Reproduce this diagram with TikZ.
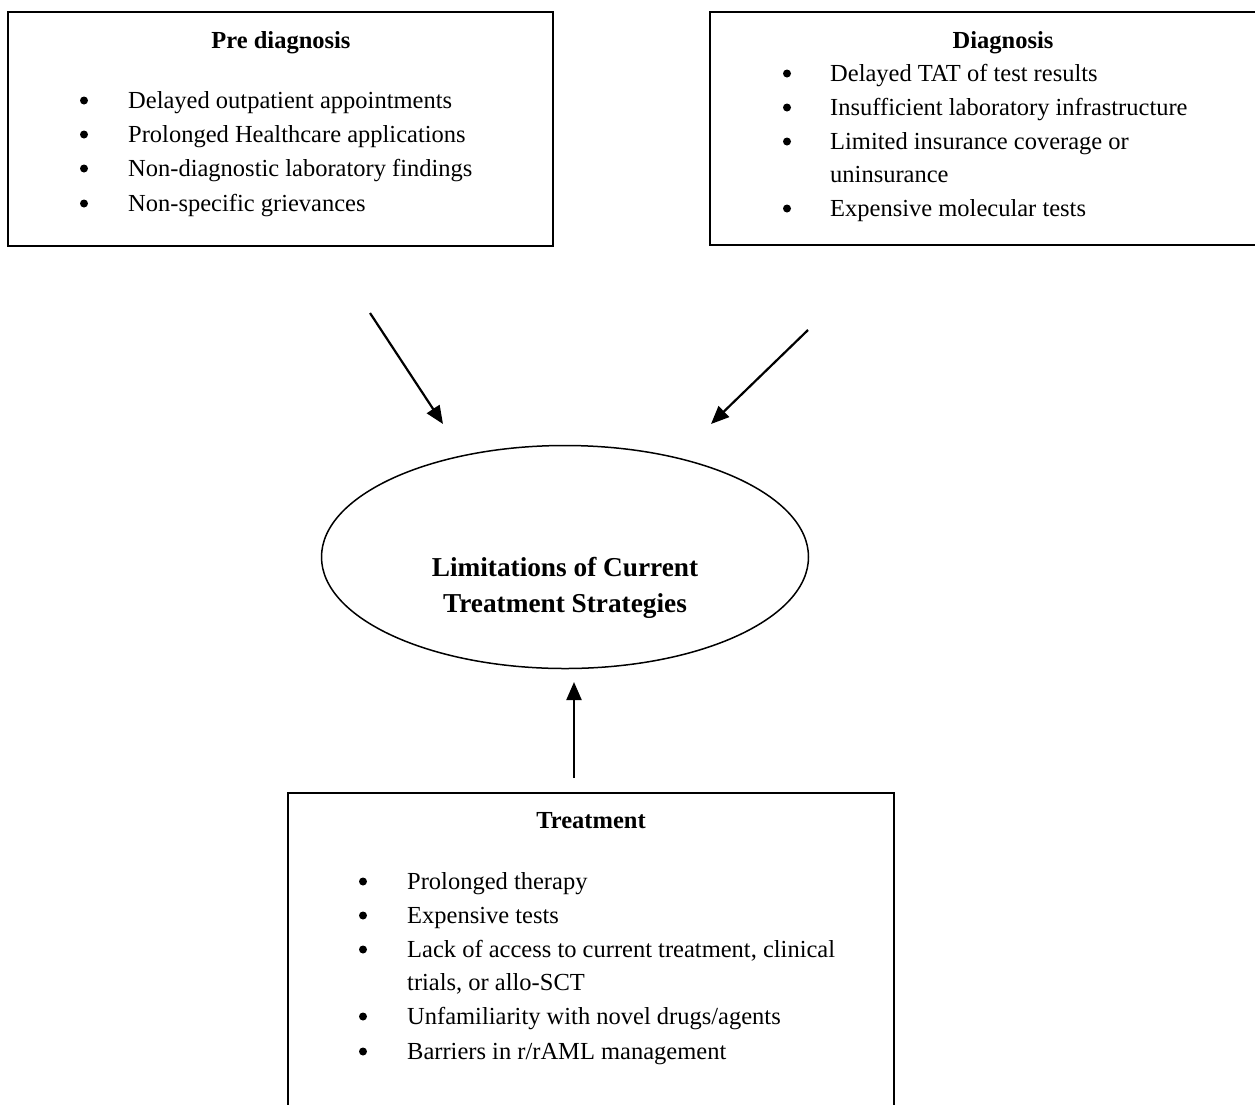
\documentclass[tikz,border=0pt]{standalone}
\usepackage{fontspec}
\setmainfont{Liberation Serif}
\usetikzlibrary{arrows.meta,shapes.geometric}
\begin{document}
\begin{tikzpicture}[x=1pt,y=-1pt,
  box/.style={draw,line width=1.8pt,inner sep=0pt},
  txt/.style={anchor=base west,inner sep=0pt,font=\fontsize{24.5}{30}\selectfont},
  ttl/.style={anchor=base,inner sep=0pt,font=\fontsize{24.5}{30}\selectfont\bfseries},
  etl/.style={anchor=base,inner sep=0pt,font=\fontsize{27.3}{33}\selectfont\bfseries},
  bul/.style={circle,fill,inner sep=0pt,minimum size=8pt,yshift=7.5pt},
  arr/.style={line width=2.2pt,-{Triangle[length=18pt,width=15pt]}}]
\clip (0,0) rectangle (1255,1104);
% boxes
\draw[box] (8,12) rectangle (553,246);
\draw[box] (710,12) rectangle (1275,245);
\draw[box] (288,1125) -- (288,793) -- (894,793) -- (894,1125);
\node[draw,line width=1.5pt,ellipse,minimum width=487pt,minimum height=223pt] (ell) at (565,557) {};
% left box text
\node[ttl] (t1) at (281,48) {Pre diagnosis};
\node[bul] (b11) at (84,108) {};
\node[bul] (b12) at (84,142) {};
\node[bul] (b13) at (84,176) {};
\node[bul] (b14) at (84,211) {};
\node[txt] (l11) at (128,108) {Delayed outpatient appointments};
\node[txt] (l12) at (128,142) {Prolonged Healthcare applications};
\node[txt] (l13) at (128,176) {Non-diagnostic laboratory findings};
\node[txt] (l14) at (128,211) {Non-specific grievances};
% right box text
\node[ttl] (t2) at (1003,48) {Diagnosis};
\node[bul] (b21) at (787,81) {};
\node[bul] (b22) at (787,115) {};
\node[bul] (b23) at (787,149) {};
\node[bul] (b24) at (787,216) {};
\node[txt] (l21) at (830,81) {Delayed TAT of test results};
\node[txt] (l22) at (830,115) {Insufficient laboratory infrastructure};
\node[txt] (l23) at (830,149) {Limited insurance coverage or};
\node[txt] (l23b) at (830,182) {uninsurance};
\node[txt] (l24) at (830,216) {Expensive molecular tests};
% ellipse text
\node[etl] (e1) at (565,576) {Limitations of Current};
\node[etl] (e2) at (565,612) {Treatment Strategies};
% bottom box text
\node[ttl] (t3) at (591,828) {Treatment};
\node[bul] (b31) at (363,889) {};
\node[bul] (b32) at (363,923) {};
\node[bul] (b33) at (363,957) {};
\node[bul] (b34) at (363,1024) {};
\node[bul] (b35) at (363,1059) {};
\node[txt] (l31) at (407,889) {Prolonged therapy};
\node[txt] (l32) at (407,923) {Expensive tests};
\node[txt] (l33) at (407,957) {Lack of access to current treatment, clinical};
\node[txt] (l33b) at (407,990) {trials, or allo-SCT};
\node[txt] (l34) at (407,1024) {Unfamiliarity with novel drugs/agents};
\node[txt] (l35) at (407,1059) {Barriers in r/rAML management};
% arrows
\coordinate (a1s) at (370,313);
\coordinate (a1e) at (443,424);
\coordinate (a2s) at (808,330);
\coordinate (a2e) at (711,424);
\coordinate (a3s) at (574,778);
\coordinate (a3e) at (574,682);
\draw[arr] (a1s) -- (a1e);
\draw[arr] (a2s) -- (a2e);
\draw[arr] (a3s) -- (a3e);
\end{tikzpicture}
\end{document}
